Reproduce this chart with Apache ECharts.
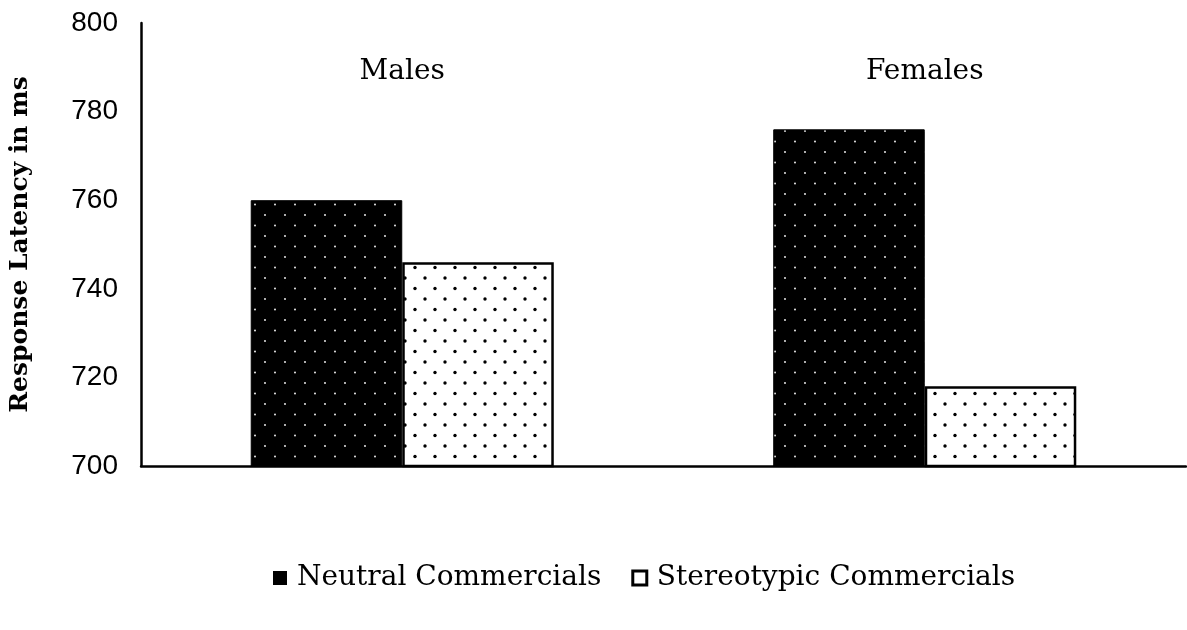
<!DOCTYPE html>
<html>
<head>
<meta charset="utf-8">
<script src="https://cdn.jsdelivr.net/npm/echarts@6/dist/echarts.min.js"></script>
<style>
  html, body { margin: 0; padding: 0; background: #fff; }
  #main { width: 1187px; height: 630px; }
</style>
</head>
<body>
<div id="main"></div>
<script>
  var groups = ['Males', 'Females'];
  var neutral = [760, 776];
  var stereotypic = [746, 718];
  var yTicks = [700, 720, 740, 760, 780, 800];

  // dotted fills, like the old print patterns
  function dots(bg, fg, r) {
    var c = document.createElement('canvas');
    c.width = 20;
    c.height = 21;
    var ctx = c.getContext('2d');
    ctx.fillStyle = bg;
    ctx.fillRect(0, 0, 20, 21);
    ctx.fillStyle = fg;
    [[5, 5], [15, 15.5]].forEach(function (p) {
      ctx.beginPath();
      ctx.arc(p[0], p[1], r, 0, Math.PI * 2);
      ctx.fill();
    });
    return { image: c, repeat: 'repeat' };
  }

  var myChart = echarts.init(document.getElementById('main'));
  var option = {
    animation: false,
    grid: { left: 133, right: 1, top: 23, bottom: 164 },
    legend: {
      left: 268,
      top: 559,
      icon: 'rect',
      itemWidth: 14,
      itemHeight: 14,
      itemGap: 30,
      textStyle: { fontFamily: 'DejaVu Serif', fontSize: 28, color: '#000', padding: [0, 0, 0, 5] },
      data: [
        { name: 'Neutral Commercials', itemStyle: { color: '#000', borderWidth: 0 } },
        { name: 'Stereotypic Commercials', itemStyle: { color: '#fff', borderColor: '#000', borderWidth: 3 } }
      ]
    },
    xAxis: [
      {
        type: 'category',
        data: groups,
        axisLine: { lineStyle: { color: '#000', width: 2.5 } },
        axisTick: { show: false },
        axisLabel: { show: false }
      },
      {
        type: 'category',
        data: groups,
        position: 'top',
        axisLine: { show: false },
        axisTick: { show: false },
        axisLabel: {
          inside: true,
          margin: 35,
          fontFamily: 'DejaVu Serif',
          fontSize: 28,
          color: '#000'
        }
      }
    ],
    yAxis: {
      type: 'value',
      min: yTicks[0],
      max: yTicks[yTicks.length - 1],
      interval: 20,
      name: 'Response Latency in ms',
      nameLocation: 'middle',
      nameGap: 108,
      nameTextStyle: {
        fontFamily: 'DejaVu Serif',
        fontWeight: 'bold',
        fontSize: 25,
        color: '#000'
      },
      axisLine: { show: true, lineStyle: { color: '#000', width: 2.5 } },
      axisTick: { show: false },
      splitLine: { show: false },
      axisLabel: {
        margin: 23,
        fontFamily: 'Liberation Sans',
        fontSize: 28,
        color: '#000'
      }
    },
    series: [
      {
        name: 'Neutral Commercials',
        type: 'bar',
        data: neutral,
        barGap: '0%',
        barCategoryGap: '42%',
        itemStyle: { color: dots('#000', '#fff', 0.9), borderColor: '#000', borderWidth: 1 }
      },
      {
        name: 'Stereotypic Commercials',
        type: 'bar',
        data: stereotypic,
        itemStyle: { color: dots('#fff', '#000', 1.7), borderColor: '#000', borderWidth: 2.5 }
      }
    ]
  };
  myChart.setOption(option);
  window.addEventListener('resize', function () {
    myChart.resize();
  });
</script>
</body>
</html>
